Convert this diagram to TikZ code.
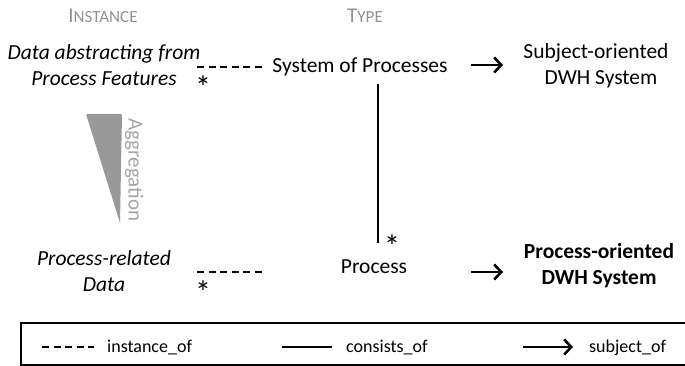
\documentclass[tikz,border=0pt]{standalone}
\usepackage{fontspec}
\setmainfont{Carlito}
\usetikzlibrary{arrows.meta}
\definecolor{hdr}{RGB}{145,145,145}
\definecolor{trig}{RGB}{153,153,153}
\definecolor{agg}{RGB}{165,165,165}
\newcommand\twol[2]{\begin{tabular}[t]{@{}c@{}}#1\\#2\end{tabular}}
\newcommand\astr{\raisebox{-18.5pt}[5pt][5pt]{*}}
\begin{document}
\begin{tikzpicture}[x=1pt,y=-1pt,
  lbl/.style={inner sep=0pt, anchor=base, font=\fontsize{21.5}{26}\selectfont},
  hdrtxt/.style={inner sep=0pt, anchor=base, text=hdr},
  star/.style={inner sep=0pt, anchor=center, font=\fontsize{32}{36}\selectfont},
  leg/.style={inner sep=0pt, anchor=base west, font=\fontsize{18}{20}\selectfont},
  instof/.style={line width=1.2pt, dash pattern=on 7pt off 4.5pt},
  consof/.style={line width=1.3pt},
  subjof/.style={line width=2.6pt, -{Straight Barb[length=7pt,width=15pt]}}]
\useasboundingbox (0,0) rectangle (685,366);

% headers
\node[hdrtxt] (hi) at (103,23) {\fontsize{21}{24}\selectfont I\fontsize{17}{20}\selectfont NSTANCE};
\node[hdrtxt] (ht) at (365,23) {\fontsize{21}{24}\selectfont T\fontsize{17}{20}\selectfont YPE};

% instance nodes
\node[lbl] (inst1) at (104,60) {\itshape\twol{Data abstracting from}{Process Features}};
\node[lbl] (inst2) at (104,265) {\itshape\twol{Process-related}{Data}};

% type nodes
\node[lbl] (sop) at (360,73) {System of Processes};
\node[lbl] (proc) at (374,273) {Process};

% DWH nodes
\node[lbl] (subj) at (596,59) {\twol{Subject-oriented}{\hspace*{10pt}DWH System}};
\node[lbl] (pdwh) at (599,258) {\bfseries\twol{Process-oriented}{DWH System}};

% aggregation wedge
\fill[trig, rounded corners=1pt] (86,114) -- (122,114) -- (120,223) -- cycle;
\node[inner sep=0pt, rotate=-90, text=agg, font=\fontsize{21}{24}\selectfont] (agg) at (134,170) {Aggregation};

% instance_of connectors
\coordinate (d1a) at (197,67); \coordinate (d1b) at (264,67);
\coordinate (d2a) at (197,272); \coordinate (d2b) at (264,272);
\draw[instof] (d1a) -- (d1b);
\draw[instof] (d2a) -- (d2b);
\node[star] (s1) at (203,80) {\astr};
\node[star] (s2) at (203,285) {\astr};

% consists_of
\coordinate (v1) at (378,84); \coordinate (v2) at (378,243);
\draw[consof] (v1) -- (v2);
\node[star] (s3) at (392,239) {\astr};

% subject_of
\coordinate (a1s) at (471,65); \coordinate (a1e) at (503,65);
\coordinate (a2s) at (471,272); \coordinate (a2e) at (503,272);
\draw[subjof] (a1s) -- (a1e);
\draw[subjof] (a2s) -- (a2e);

% legend
\draw[line width=1.2pt] (686,323) -- (21,323) -- (21,365) -- (686,365);
\coordinate (l1a) at (42,347); \coordinate (l1b) at (94,347);
\draw[instof] (l1a) -- (l1b);
\node[leg] (t1) at (107,352) {instance\_of};
\coordinate (l2a) at (282,347); \coordinate (l2b) at (332,347);
\draw[consof] (l2a) -- (l2b);
\node[leg] (t2) at (346,352) {consists\_of};
\coordinate (l3a) at (523,347); \coordinate (l3b) at (573,347);
\draw[subjof] (l3a) -- (l3b);
\node[leg] (t3) at (589,352) {subject\_of};
\end{tikzpicture}
\end{document}
